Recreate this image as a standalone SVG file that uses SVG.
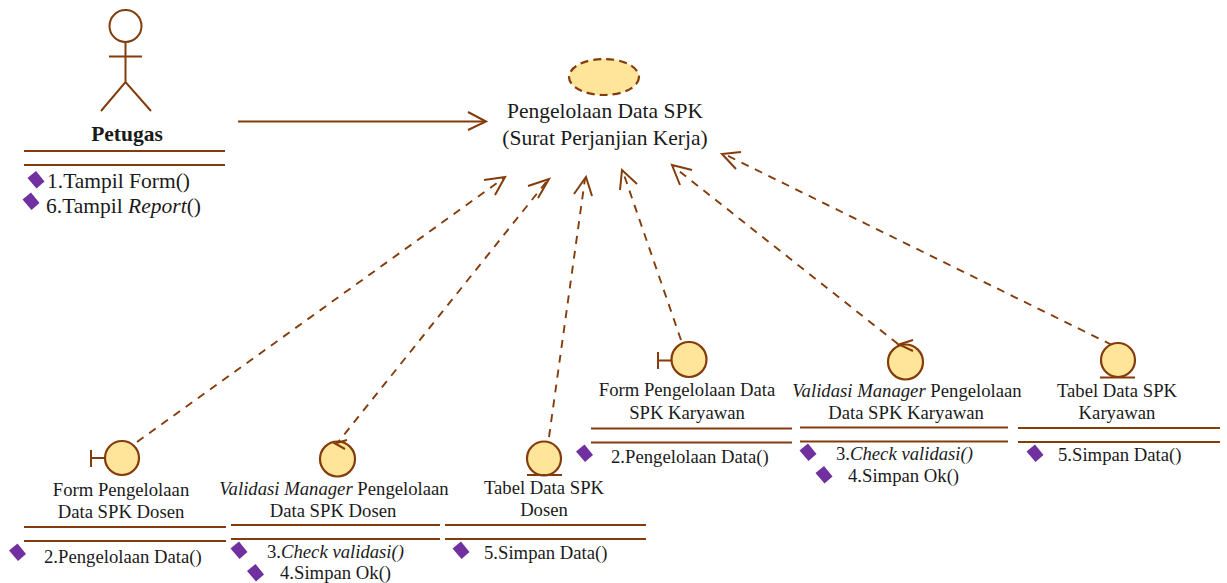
<svg xmlns="http://www.w3.org/2000/svg" width="1227" height="583" viewBox="0 0 1227 583">
<style>
text{font-family:"Liberation Serif","Times New Roman",serif;fill:#1a1a1a;font-size:18.7px;text-anchor:middle}
.l{text-anchor:start}
.big{font-size:21.5px}
.m{font-size:21.5px}
.i{font-style:italic}
.s{stroke:#843c0c;stroke-width:2;fill:none}
.c{stroke:#843c0c;stroke-width:2.2;fill:#ffe599}
.d{fill:#7030a0}
.a{stroke:#843c0c;stroke-width:1.9;fill:none;stroke-dasharray:8 7}
.h{stroke:#843c0c;stroke-width:2;fill:none}
</style>
<defs>
<polygon id="dia" class="d" points="-8.500,-2 0,-9 8.500,1.500 0.500,8.500"/>
</defs>
<g id="connectors">
<path class="s" d="M238,121.500H485"/>
<path class="h" d="M468,112L486,121.500L468,130"/>
<path class="a" d="M137,442L504,178"/>
<path class="h" d="M484,180L505,177L495,195"/>
<path class="a" d="M335,446L547,181"/>
<path class="h" d="M528,186L549,179L538,198"/>
<path class="a" d="M549,437L585,179"/>
<path class="h" d="M574,194L586,177L592,196"/>
<path class="a" d="M681,340L623,172"/>
<path class="h" d="M620,190L622,170L637,184"/>
<path class="a" d="M898,344L674,167"/>
<path class="h" d="M680,185L672,165L692,170"/>
<path class="a" d="M1112,345L724,154"/>
<path class="h" d="M736,169L722,154L741,152"/>
</g>
<g id="actor-petugas">
<circle class="s" cx="125.500" cy="26" r="16"/>
<path class="s" d="M125.500,42V82M109,56.500H142M101,111L125.500,82L151,111"/>
<text class="m" x="127" y="141" style="font-weight:bold">Petugas</text>
<path class="s" d="M24,151H225M24,165H225"/>
<use href="#dia" x="36" y="180"/>
<use href="#dia" x="31" y="201.500"/>
<text class="l m" x="47" y="188">1.Tampil Form()</text>
<text class="l m" x="46" y="213">6.Tampil <tspan class="i">Report</tspan>()</text>
</g>
<g id="usecase">
<ellipse cx="604" cy="77" rx="35" ry="18" class="c" stroke-dasharray="8 5"/>
<text class="big" x="605" y="118">Pengelolaan Data SPK</text>
<text class="big" x="605" y="145">(Surat Perjanjian Kerja)</text>
</g>
<g id="form-dosen">
<circle class="c" cx="122" cy="458" r="17"/>
<path class="s" d="M91,450V467M91,458H105"/>
<text x="121" y="496">Form Pengelolaan</text>
<text x="121" y="518">Data SPK Dosen</text>
<path class="s" d="M24,527H226M24,541H226"/>
<use href="#dia" x="17.500" y="552.500"/>
<text class="l" x="44" y="563">2.Pengelolaan Data()</text>
</g>
<g id="validasi-dosen">
<circle class="c" cx="337.500" cy="459" r="17.500"/>
<path class="h" d="M347,440L335,443.500L345,449"/>
<text x="334" y="495"><tspan class="i">Validasi Manager</tspan> Pengelolaan</text>
<text x="333" y="517">Data SPK Dosen</text>
<path class="s" d="M231,525H440M231,539H440"/>
<use href="#dia" x="239" y="550.500"/>
<use href="#dia" x="255.500" y="573"/>
<text class="l" x="267" y="558">3.<tspan class="i">Check validasi()</tspan></text>
<text class="l" x="280" y="579">4.Simpan Ok()</text>
</g>
<g id="tabel-dosen">
<circle class="c" cx="544" cy="458.500" r="17"/>
<path class="s" d="M527,475H562"/>
<text x="544" y="494">Tabel Data SPK</text>
<text x="544" y="516">Dosen</text>
<path class="s" d="M445,525H646M445,539H646"/>
<use href="#dia" x="461" y="550.500"/>
<text class="l" x="484" y="559">5.Simpan Data()</text>
</g>
<g id="form-karyawan">
<circle class="c" cx="689" cy="359.500" r="17.500"/>
<path class="s" d="M658,352V369M658,360.500H671"/>
<text x="687" y="396">Form Pengelolaan Data</text>
<text x="687" y="419">SPK Karyawan</text>
<path class="s" d="M591,428.500H792M591,442.500H792"/>
<use href="#dia" x="584.500" y="453.500"/>
<text class="l" x="611" y="463">2.Pengelolaan Data()</text>
</g>
<g id="validasi-karyawan">
<circle class="c" cx="905.500" cy="362" r="17.500"/>
<path class="h" d="M913,340L899,344.500L913,351"/>
<text x="907" y="397"><tspan class="i">Validasi Manager</tspan> Pengelolaan</text>
<text x="906" y="419">Data SPK Karyawan</text>
<path class="s" d="M800,427.500H1008M800,441.500H1008"/>
<use href="#dia" x="808" y="452.500"/>
<use href="#dia" x="824" y="475"/>
<text class="l" x="836" y="460">3.<tspan class="i">Check validasi()</tspan></text>
<text class="l" x="848" y="482">4.Simpan Ok()</text>
</g>
<g id="tabel-karyawan">
<circle class="c" cx="1118" cy="360" r="17"/>
<path class="s" d="M1100,377.500H1135"/>
<text x="1117" y="397">Tabel Data SPK</text>
<text x="1117" y="419">Karyawan</text>
<path class="s" d="M1018,428H1220M1018,442H1220"/>
<use href="#dia" x="1035" y="453.500"/>
<text class="l" x="1058" y="461">5.Simpan Data()</text>
</g>
</svg>
